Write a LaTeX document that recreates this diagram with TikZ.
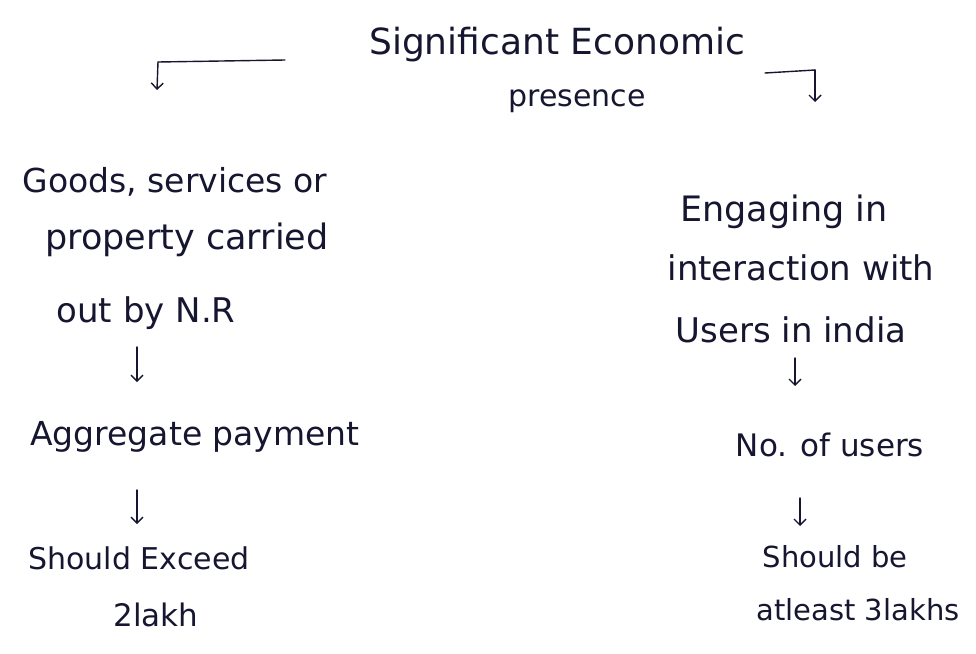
\documentclass[tikz,border=0pt]{standalone}
\usepackage{fontspec}
\setmainfont{DejaVu Sans}
\usetikzlibrary{arrows.meta}
\definecolor{ink}{RGB}{22,22,48}
\newcommand{\fs}[1]{\fontsize{#1}{#1}\selectfont}
\begin{document}
\begin{tikzpicture}[x=1pt,y=-1pt,
  txt/.style={inner sep=0pt, text=ink},
  arr/.style={draw=ink, line width=1.4pt, line cap=round, -{Straight Barb[length=6pt,width=12pt]}},
  ln/.style={draw=ink, line width=1.4pt, line cap=round}]
\useasboundingbox[fill=white] (0,0) rectangle (976,653);
% title
\node[txt, font=\fs{36}] (t1) at (557,45) {Significant Economic};
\node[txt, font=\fs{30}] (t2) at (577,101) {presence};
% left branch
\node[txt, font=\fs{33}] (l1) at (175,182) {Goods, services or};
\node[txt, font=\fs{35}] (l2) at (187,240) {property carried};
\node[txt, font=\fs{34}] (l3) at (146,313) {out by N.R};
\node[txt, font=\fs{33}] (l4) at (195,437) {Aggregate payment};
\node[txt, font=\fs{30}] (l5) at (139,558) {Should Exceed};
\node[txt, font=\fs{31}] (l6) at (156,615) {2lakh};
% right branch
\node[txt, font=\fs{35}] (r1) at (784,212) {Engaging in};
\node[txt, font=\fs{34}] (r2) at (801,268) {interaction with};
\node[txt, font=\fs{34}] (r3) at (791,330) {Users in india};
\node[txt, font=\fs{31}] (r4) at (830,445) {No. of users};
\node[txt, font=\fs{29}] (r5) at (835,557) {Should be};
\node[txt, font=\fs{29}] (r6) at (858,610) {atleast 3lakhs};
% brackets from title
\coordinate (bl0) at (285,60);
\coordinate (bl1) at (158,62);
\coordinate (bl2) at (157,90);
\coordinate (br0) at (765,73);
\coordinate (br1) at (815,70);
\coordinate (br2) at (815,102);
\draw[ln] (bl0) -- (bl1);
\draw[arr] (bl1) -- (bl2);
\draw[ln] (br0) -- (br1);
\draw[arr] (br1) -- (br2);
% arrows between the blocks
\coordinate (a1s) at (137,347); \coordinate (a1e) at (137,382);
\coordinate (a2s) at (137,490); \coordinate (a2e) at (137,524);
\coordinate (a3s) at (795,358); \coordinate (a3e) at (795,386);
\coordinate (a4s) at (800,498); \coordinate (a4e) at (800,526);
\draw[arr] (a1s) -- (a1e);
\draw[arr] (a2s) -- (a2e);
\draw[arr] (a3s) -- (a3e);
\draw[arr] (a4s) -- (a4e);
\end{tikzpicture}
\end{document}
